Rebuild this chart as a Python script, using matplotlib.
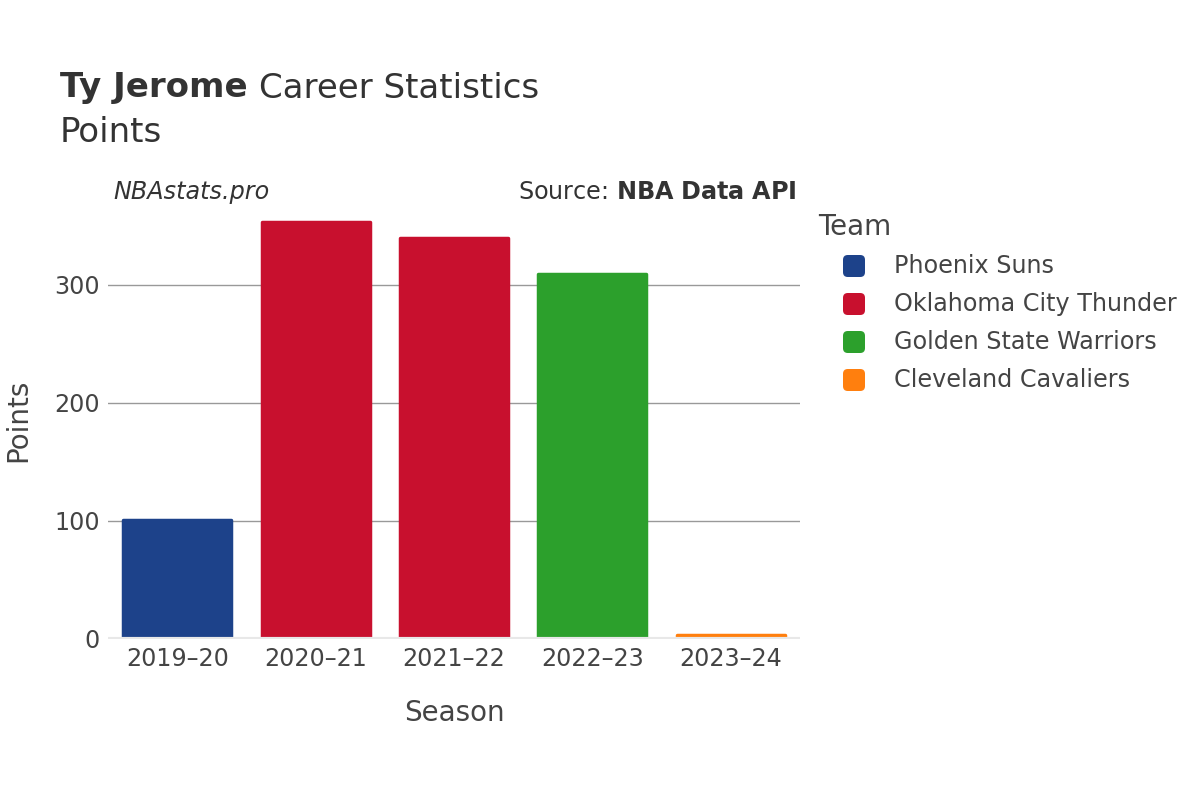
import matplotlib.pyplot as plt
from matplotlib.patches import FancyBboxPatch

# datos
seasons = ["2019–20", "2020–21", "2021–22", "2022–23", "2023–24"]
points = [101, 353, 340, 309, 3]
teams = ["Phoenix Suns", "Oklahoma City Thunder", "Oklahoma City Thunder",
         "Golden State Warriors", "Cleveland Cavaliers"]
legend_teams = ["Phoenix Suns", "Oklahoma City Thunder", "Golden State Warriors",
                "Cleveland Cavaliers"]
team_colors = {"Phoenix Suns": "#1D428A", "Oklahoma City Thunder": "#C8102E",
               "Golden State Warriors": "#2CA02C", "Cleveland Cavaliers": "#FF7F0E"}
yticks = [0, 100, 200, 300]

txt = "#444444"
plt.rcParams['font.family'] = ['DejaVu Sans']

fig = plt.figure(figsize=(12, 8), dpi=100)
ax = fig.add_axes([108/1200, 1-639/800, 692/1200, 438/800])

x = range(len(seasons))
cols = [team_colors[t] for t in teams]
bars = ax.bar(x, points, width=0.78, color=cols, edgecolor=cols, linewidth=2.5,
              zorder=3)
for b in bars:
    b.set_joinstyle('round')

ax.set_xlim(-0.5, len(seasons) - 0.5)
ax.set_ylim(0, 371)
ax.set_yticks(yticks)
ax.set_xticks(list(x))
ax.set_xticklabels(seasons)
ax.grid(axis='y', color='#999999', linewidth=1, zorder=0)
ax.axhline(0, color='#e8e8e8', linewidth=3, zorder=4)
for s in ax.spines.values():
    s.set_visible(False)
ax.tick_params(length=0, labelsize=17.2, colors=txt, pad=6)
ax.set_xlabel("Season", fontsize=20, color=txt, labelpad=20)
ax.set_ylabel("Points", fontsize=20, color=txt, labelpad=16)

# titulos
t1 = fig.text(60/1200, 1-88/800, "Ty Jerome", fontsize=24.5, fontweight='bold',
              color='#333333', va='center')
fig.canvas.draw()
bb = t1.get_window_extent()
fig.text((bb.x1 + 11)/1200, 1-88/800, "Career Statistics", fontsize=24.5,
         color='#333333', va='center')
fig.text(60/1200, 1-133/800, "Points", fontsize=24.5, color='#333333', va='center')
fig.text(113/1200, 1-192/800, "NBAstats.pro", fontsize=17.2, style='italic',
         color='#333333', va='center')
fig.text(796/1200, 1-192/800, r"Source: $\bf{NBA\ Data\ API}$", fontsize=17.2,
         color='#333333', va='center', ha='right')

# leyenda
fig.text(818/1200, 1-227/800, "Team", fontsize=20, color=txt, va='center')
for i, t in enumerate(legend_teams):
    yc = 266 + 38*i
    p = FancyBboxPatch(((843)/1200, 1-(yc+11)/800), 22/1200, 22/800,
                       boxstyle="round,pad=0,rounding_size=0.004",
                       mutation_aspect=1.5, transform=fig.transFigure,
                       facecolor=team_colors[t], edgecolor='none')
    fig.add_artist(p)
    fig.text(894/1200, 1-yc/800, t, fontsize=17.2, color=txt, va='center')

plt.savefig("out.png", dpi=100)
